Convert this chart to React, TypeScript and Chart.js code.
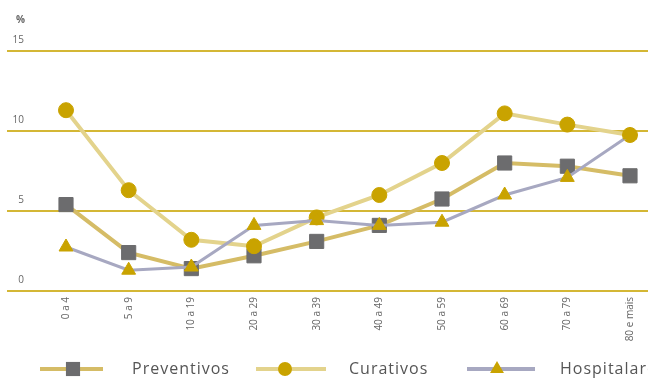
import React, { useEffect, useRef } from "react";
import { Chart, registerables } from "chart.js";

Chart.register(...registerables);

const categories = ["0 a 4", "5 a 9", "10 a 19", "20 a 29", "30 a 39", "40 a 49", "50 a 59", "60 a 69", "70 a 79", "80 e mais"];
const preventivos = [5.4, 2.4, 1.4, 2.2, 3.1, 4.1, 5.75, 8.0, 7.8, 7.2];
const curativos = [11.3, 6.3, 3.2, 2.8, 4.6, 6.0, 8.0, 11.1, 10.4, 9.75];
const hospitalares = [2.75, 1.3, 1.5, 4.1, 4.4, 4.1, 4.3, 6.0, 7.1, 9.75];
const yTicks = [0, 5, 10, 15];
const unitLabel = "%";
const seriesNames = ["Preventivos", "Curativos", "Hospitalares"];

const GOLD = "#c9a300";
const GRAY = "#6c6c6e";
const PREV_LINE = "#d5bc66";
const CUR_LINE = "#e3d38c";
const HOSP_LINE = "#a7a8c1";
const GRID = "#d4b735";
const FONT = "'Open Sans', sans-serif";

function drawMarker(ctx: CanvasRenderingContext2D, style: string, x: number, y: number, r: number, color: string) {
  ctx.save();
  ctx.fillStyle = color;
  ctx.beginPath();
  if (style === "rect") {
    const s = Math.SQRT1_2 * r;
    ctx.rect(x - s, y - s, 2 * s, 2 * s);
  } else if (style === "circle") {
    ctx.arc(x, y, r, 0, Math.PI * 2);
  } else {
    const h = r * 1.5;
    const half = (r * Math.sqrt(3)) / 2;
    ctx.moveTo(x, y - r);
    ctx.lineTo(x + half, y - r + h);
    ctx.lineTo(x - half, y - r + h);
    ctx.closePath();
  }
  ctx.fill();
  ctx.restore();
}

const decorPlugin = {
  id: "decor",
  beforeDatasetsDraw(chart: any) {
    const ctx = chart.ctx as CanvasRenderingContext2D;
    const ys = chart.scales.y;
    ctx.save();
    ctx.strokeStyle = GRID;
    ctx.lineWidth = 2;
    yTicks.forEach((v) => {
      const y = Math.round(ys.getPixelForValue(v));
      ctx.beginPath();
      ctx.moveTo(7, y);
      ctx.lineTo(chart.width, y);
      ctx.stroke();
    });
    ctx.fillStyle = "#666";
    ctx.font = `bold 10px ${FONT}`;
    ctx.textAlign = "right";
    ctx.textBaseline = "middle";
    ctx.fillText(unitLabel, 25, ys.getPixelForValue(15) - 31);
    ctx.restore();
  },
  afterDraw(chart: any) {
    const ctx = chart.ctx as CanvasRenderingContext2D;
    const y = 369;
    const items = [
      { name: seriesNames[0], x0: 40, x1: 103, mx: 73, text: 132, line: PREV_LINE, lw: 4, style: "rect", r: 10, mc: GRAY },
      { name: seriesNames[1], x0: 256, x1: 326, mx: 285, text: 349, line: CUR_LINE, lw: 4, style: "circle", r: 7, mc: GOLD },
      { name: seriesNames[2], x0: 467, x1: 535, mx: 497, text: 560, line: HOSP_LINE, lw: 4, style: "triangle", r: 8, mc: GOLD },
    ];
    ctx.save();
    items.forEach((it) => {
      ctx.strokeStyle = it.line;
      ctx.lineWidth = it.lw;
      ctx.beginPath();
      ctx.moveTo(it.x0, y);
      ctx.lineTo(it.x1, y);
      ctx.stroke();
      drawMarker(ctx, it.style, it.mx, y, it.r, it.mc);
      ctx.fillStyle = "#555";
      ctx.font = `16px ${FONT}`;
      (ctx as any).letterSpacing = "1px";
      ctx.textAlign = "left";
      ctx.textBaseline = "middle";
      ctx.fillText(it.name, it.text, y);
    });
    ctx.restore();
  },
};

export default function App() {
  const ref = useRef<HTMLCanvasElement | null>(null);

  useEffect(() => {
    if (!ref.current) return;
    const chart = new Chart(ref.current, {
      type: "line",
      data: {
        labels: categories,
        datasets: [
          {
            label: seriesNames[2],
            data: hospitalares,
            borderColor: HOSP_LINE,
            borderWidth: 3,
            pointStyle: "triangle",
            pointRadius: 8,
            pointBackgroundColor: GOLD,
            pointBorderColor: GOLD,
            pointBorderWidth: 1,
            order: 0,
          },
          {
            label: seriesNames[1],
            data: curativos,
            borderColor: CUR_LINE,
            borderWidth: 4,
            pointStyle: "circle",
            pointRadius: 7.5,
            pointBackgroundColor: GOLD,
            pointBorderColor: GOLD,
            pointBorderWidth: 1,
            order: 1,
          },
          {
            label: seriesNames[0],
            data: preventivos,
            borderColor: PREV_LINE,
            borderWidth: 4,
            pointStyle: "rect",
            pointRadius: 10,
            pointBackgroundColor: GRAY,
            pointBorderColor: GRAY,
            pointBorderWidth: 1,
            order: 2,
          },
        ],
      },
      options: {
        responsive: false,
        animation: false,
        layout: { padding: { left: 8, right: 16, top: 51, bottom: 0 } },
        plugins: { legend: { display: false }, tooltip: { enabled: false } },
        scales: {
          x: {
            offset: false,
            grid: { display: false, drawTicks: false },
            border: { display: false },
            ticks: {
              autoSkip: false,
              minRotation: 90,
              maxRotation: 90,
              padding: 6,
              color: "#666",
              font: { family: FONT, size: 10 },
            },
            afterFit(scale: any) {
              scale.height = 87;
            },
          },
          y: {
            min: 0,
            max: 15,
            grid: { display: false, drawTicks: false },
            border: { display: false },
            ticks: {
              stepSize: 5,
              padding: 42,
              labelOffset: -11,
              color: "#666",
              font: { family: FONT, size: 10 },
            },
            afterFit(scale: any) {
              scale.width = 58;
            },
          },
        },
      },
      plugins: [decorPlugin],
    });
    return () => chart.destroy();
  }, []);

  return (
    <div style={{ position: "absolute", left: 0, top: 0, width: 648, height: 378, background: "#fff" }}>
      <canvas ref={ref} width={648} height={378} />
    </div>
  );
}
